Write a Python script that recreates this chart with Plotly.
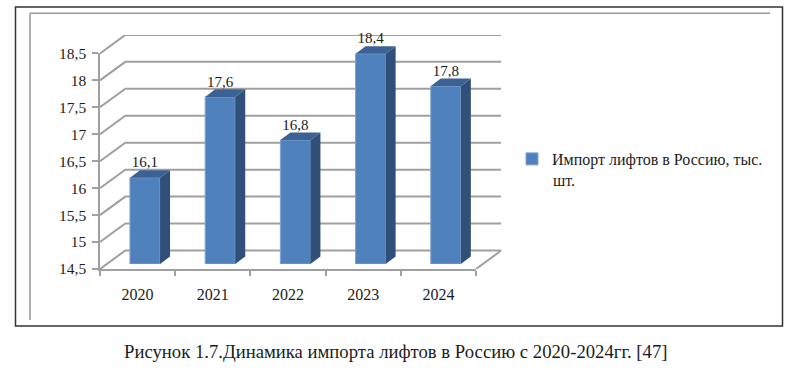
import plotly.graph_objects as go

years = ["2020", "2021", "2022", "2023", "2024"]
values = [16.1, 17.6, 16.8, 18.4, 17.8]
value_labels = ["16,1", "17,6", "16,8", "18,4", "17,8"]
y_ticks = [14.5, 15, 15.5, 16, 16.5, 17, 17.5, 18, 18.5]
y_tick_labels = ["14,5", "15", "15,5", "16", "16,5", "17", "17,5", "18", "18,5"]
series_name = "Импорт лифтов в Россию, тыс."
series_name_tail = "шт."
caption = "Рисунок 1.7.Динамика импорта лифтов в Россию с 2020-2024гг. [47]"

W, H = 800, 370
FONT = "Liberation Serif"
INK = "#1c1c1c"
GRID = "#a0a0a0"
FRONT = "#4f81bd"
SIDE = "#30507a"
TOP = "#3c6295"

UX = 75.2   # px per category
UY = 53.9   # px per value unit
X0 = 100    # px left end of front axis
Y0 = 269    # px of 14.5 on front axis
YMIN, YMAX = 14.5, 18.5
N = len(years)
XMIN, XMAX = -0.5, N - 0.5

WALL_DX, WALL_DY = 25.3 / UX, 18.5 / UY
BAR_W = 0.4
BAR_DX, BAR_DY = 10 / UX, 7.6 / UY
BAR_SHIFT_X, BAR_SHIFT_Y = 7.4, 5
LABEL_DROP = 1 / UY


def dom_x(a, b):
    return [a / W, b / W]


def dom_y(bottom, top):
    return [1 - bottom / H, 1 - top / H]


fig = go.Figure()

# back wall and floor lines
line_x, line_y = [], []
for v in y_ticks:
    line_x += [XMIN, XMIN + WALL_DX, XMAX + WALL_DX, None]
    line_y += [v, v + WALL_DY, v + WALL_DY, None]
line_x += [XMAX, XMAX + WALL_DX]
line_y += [YMIN, YMIN + WALL_DY]
fig.add_trace(go.Scatter(x=line_x, y=line_y, mode="lines", showlegend=False, hoverinfo="skip",
                         line=dict(color=GRID, width=2), xaxis="x", yaxis="y"))

# front axis carrier
fig.add_trace(go.Scatter(x=list(range(N)), y=values, mode="none", showlegend=False,
                         hoverinfo="skip", xaxis="x2", yaxis="y2"))

# 3-D faces of the bars
side_x, side_y, top_x, top_y = [], [], [], []
for i, v in enumerate(values):
    r = i + BAR_W / 2
    l = i - BAR_W / 2
    side_x += [r, r + BAR_DX, r + BAR_DX, r, r, None]
    side_y += [YMIN, YMIN + BAR_DY, v + BAR_DY, v, YMIN, None]
    top_x += [l, l + BAR_DX, r + BAR_DX, r, l, None]
    top_y += [v, v + BAR_DY, v + BAR_DY, v, v, None]
fig.add_trace(go.Scatter(x=side_x, y=side_y, mode="lines", fill="toself", fillcolor=SIDE,
                         line=dict(width=0, color=SIDE), showlegend=False, hoverinfo="skip",
                         xaxis="x3", yaxis="y3"))
fig.add_trace(go.Scatter(x=top_x, y=top_y, mode="lines", fill="toself", fillcolor=TOP,
                         line=dict(width=0, color=TOP), showlegend=False, hoverinfo="skip",
                         xaxis="x3", yaxis="y3"))
fig.add_trace(go.Bar(x=list(range(N)), y=[v - YMIN for v in values], base=YMIN, width=BAR_W,
                     name=series_name, marker=dict(color=FRONT, line=dict(color="#7fa4d2", width=1)),
                     xaxis="x3", yaxis="y3"))
fig.add_trace(go.Scatter(x=list(range(N)), y=[v + BAR_DY - LABEL_DROP for v in values], text=value_labels,
                         mode="text", textposition="top center", showlegend=False, hoverinfo="skip",
                         textfont=dict(family=FONT, size=15, color=INK), xaxis="x3", yaxis="y3"))

hidden = dict(visible=False, showgrid=False, zeroline=False, fixedrange=True)

# frames
shapes = [
    dict(type="rect", xref="paper", yref="paper", x0=15.5 / W, x1=782.5 / W, y0=1 - 326 / H, y1=1 - 7 / H,
         line=dict(color="#333333", width=1.5), layer="below"),
    dict(type="line", xref="paper", yref="paper", x0=30 / W, x1=770 / W, y0=1 - 13.3 / H, y1=1 - 13.3 / H,
         line=dict(color="#9a9a9a", width=1.6), layer="below"),
    dict(type="line", xref="paper", yref="paper", x0=30 / W, x1=30 / W, y0=1 - 320 / H, y1=1 - 13.3 / H,
         line=dict(color="#9a9a9a", width=1.6), layer="below"),
]

x_right_wall = X0 + (XMAX - XMIN + WALL_DX) * UX
y_top_wall = Y0 - (YMAX - YMIN + WALL_DY) * UY
bar_xmax = 5.0
bar_ymax = 19.2
bar_left = X0 + BAR_SHIFT_X
bar_bottom = Y0 - BAR_SHIFT_Y

fig.update_layout(
    width=W, height=H, autosize=False, margin=dict(l=0, r=0, t=0, b=0, autoexpand=False),
    paper_bgcolor="white", plot_bgcolor="rgba(0,0,0,0)",
    barmode="overlay", shapes=shapes,
    font=dict(family=FONT, size=15, color=INK),
    xaxis=dict(hidden, domain=dom_x(X0, x_right_wall), range=[XMIN, XMAX + WALL_DX], anchor="y"),
    yaxis=dict(hidden, domain=dom_y(Y0, y_top_wall), range=[YMIN, YMAX + WALL_DY], anchor="x"),
    xaxis2=dict(domain=dom_x(X0, X0 + (XMAX - XMIN) * UX), range=[XMIN, XMAX], anchor="y2",
                tickmode="array", tickvals=list(range(N)), ticktext=years, ticks="", ticklen=0,
                ticklabelstandoff=10,
                showgrid=False, zeroline=False, showline=True, linecolor=GRID, linewidth=2,
                tickfont=dict(family=FONT, size=16, color=INK), fixedrange=True,
                minor=dict(tickmode="array", tickvals=[XMIN + k for k in range(N + 1)], ticks="outside",
                           ticklen=5, tickwidth=1.5, tickcolor=GRID, showgrid=False)),
    yaxis2=dict(domain=dom_y(Y0, Y0 - (YMAX - YMIN) * UY), range=[YMIN, YMAX], anchor="x2",
                tickmode="array", tickvals=y_ticks, ticktext=y_tick_labels, ticks="outside", ticklen=6,
                ticklabelstandoff=3,
                tickwidth=1.5, tickcolor=GRID, showgrid=False, zeroline=False, showline=True, linecolor=GRID,
                linewidth=1.5, tickfont=dict(family=FONT, size=15.5, color=INK), fixedrange=True),
    xaxis3=dict(hidden, domain=dom_x(bar_left, bar_left + (bar_xmax - XMIN) * UX), range=[XMIN, bar_xmax],
                anchor="y3"),
    yaxis3=dict(hidden, domain=dom_y(bar_bottom, bar_bottom - (bar_ymax - YMIN) * UY), range=[YMIN, bar_ymax],
                anchor="x3"),
    legend=dict(x=522 / W, y=1 - 142 / H, xanchor="left", yanchor="top", bgcolor="rgba(0,0,0,0)",
                indentation=-10, font=dict(family=FONT, size=16, color=INK)),
    annotations=[
        dict(text=caption, xref="paper", yref="paper", x=395.5 / W, y=1 - 351 / H, showarrow=False,
             xanchor="center", yanchor="middle", font=dict(family=FONT, size=18.7, color=INK)),
        dict(text=series_name_tail, xref="paper", yref="paper", x=552 / W, y=1 - 180 / H, showarrow=False,
             xanchor="left", yanchor="middle", xshift=-1, font=dict(family=FONT, size=16, color=INK)),
    ],
)

fig.write_html("out.html", config=dict(displayModeBar=False),
               post_script="document.body.style.margin='0';document.body.style.overflow='hidden';")
